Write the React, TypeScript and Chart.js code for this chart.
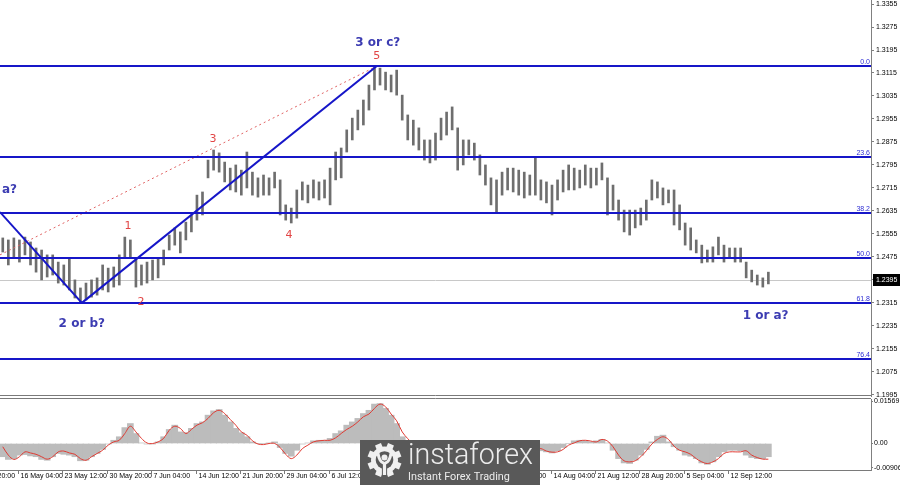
import React, { useEffect, useRef } from "react";
import { Chart, registerables } from "chart.js";

Chart.register(...registerables);

// ---------- data ----------
const H4_PER_BAR = 4; // each drawn bar groups four H4 bars
const X_MAX = 628; // H4 bar slots visible across the plot

const priceHigh = [
  1.2541, 1.2534, 1.2541, 1.2534, 1.2544, 1.2527, 1.2506, 1.2499, 1.2482, 1.2482,
  1.2457, 1.2447, 1.2471, 1.2395, 1.2367, 1.2384, 1.2395, 1.2402, 1.2447, 1.2436,
  1.244, 1.2482, 1.2544, 1.2534, 1.2471, 1.2447, 1.2457, 1.2464, 1.2471, 1.2499,
  1.2551, 1.2576, 1.2562, 1.2596, 1.2621, 1.269, 1.2701, 1.2812, 1.2847, 1.2837,
  1.2805, 1.2784, 1.2795, 1.2777, 1.284, 1.277, 1.275, 1.276, 1.275, 1.277,
  1.2743, 1.2656, 1.2645, 1.2708, 1.2736, 1.2725, 1.2743, 1.2736, 1.2743, 1.2784,
  1.284, 1.2854, 1.2917, 1.2958, 1.2986, 1.3021, 1.3073, 1.3139, 1.3132, 1.3118,
  1.3108, 1.3125, 1.3038, 1.2969, 1.2951, 1.2924, 1.2882, 1.2882, 1.2906, 1.2958,
  1.2979, 1.2997, 1.2924, 1.2882, 1.2882, 1.2871, 1.283, 1.2795, 1.275, 1.2743,
  1.277, 1.2784, 1.2784, 1.2777, 1.277, 1.276, 1.2819, 1.2743, 1.2736, 1.2725,
  1.2743, 1.2777, 1.2795, 1.2784, 1.2777, 1.2795, 1.2784, 1.2784, 1.2802, 1.275,
  1.2725, 1.2673, 1.2638, 1.2638, 1.2638, 1.2645, 1.2673, 1.2743, 1.2736, 1.2715,
  1.2708, 1.2708, 1.2656, 1.2593, 1.2576, 1.2534, 1.2516, 1.2499, 1.251, 1.2544,
  1.2516, 1.2506, 1.2506, 1.2506, 1.2457, 1.2429, 1.2412, 1.2402, 1.2422,
];

const priceLow = [
  1.2492, 1.2447, 1.2471, 1.2457, 1.2482, 1.2447, 1.2422, 1.2395, 1.2405, 1.2412,
  1.2384, 1.2377, 1.236, 1.2332, 1.2315, 1.2325, 1.2335, 1.2342, 1.236, 1.2353,
  1.237, 1.2377, 1.2471, 1.2471, 1.237, 1.2377, 1.2384, 1.2395, 1.2402, 1.2447,
  1.2499, 1.2516, 1.2489, 1.2534, 1.2562, 1.2603, 1.2621, 1.275, 1.2777, 1.277,
  1.2736, 1.2708, 1.2701, 1.269, 1.2715, 1.269, 1.2683, 1.269, 1.269, 1.2715,
  1.2621, 1.2603, 1.2593, 1.261, 1.2673, 1.2663, 1.268, 1.2673, 1.268, 1.2656,
  1.2743, 1.275, 1.284, 1.2882, 1.2917, 1.2934, 1.2986, 1.3056, 1.3073, 1.3056,
  1.3049, 1.3038, 1.2951, 1.2882, 1.2864, 1.2847, 1.2812, 1.2802, 1.2812, 1.2882,
  1.2899, 1.2917, 1.2777, 1.2795, 1.283, 1.2812, 1.276, 1.2725, 1.2656, 1.2628,
  1.269, 1.2708, 1.2701, 1.269, 1.268, 1.269, 1.269, 1.2673, 1.2663, 1.2621,
  1.2673, 1.2701, 1.2708, 1.2708, 1.2715, 1.2725, 1.2715, 1.2725, 1.2743, 1.2621,
  1.2638, 1.2603, 1.2562, 1.2551, 1.2576, 1.2586, 1.2603, 1.2673, 1.268, 1.2656,
  1.2663, 1.2586, 1.2569, 1.2516, 1.2499, 1.2489, 1.2454, 1.2457, 1.2457, 1.2482,
  1.2457, 1.2471, 1.2457, 1.2457, 1.2402, 1.2388, 1.2377, 1.237, 1.2381,
];

const macdMain = [
  -0.0049, -0.0059, -0.0056, -0.0043, -0.0041, -0.0046, -0.0049, -0.0059, -0.0062, -0.0049,
  -0.0037, -0.004, -0.0043, -0.0049, -0.0064, -0.0062, -0.0049, -0.0037, -0.0022, -0.0002,
  0.0012, 0.0025, 0.0059, 0.0074, 0.0037, 0.0002, -0.0002, -0.0002, 0.0006, 0.0025,
  0.0052, 0.0068, 0.0043, 0.004, 0.0056, 0.0074, 0.008, 0.0105, 0.0121, 0.0126,
  0.0105, 0.008, 0.0056, 0.004, 0.0025, 0.0006, 0.0, 0.0, 0.0002, 0.0006,
  -0.0015, -0.0037, -0.0047, -0.0025, -0.0002, 0.0002, 0.001, 0.0012, 0.0012, 0.0019,
  0.0037, 0.0047, 0.0068, 0.008, 0.0093, 0.0111, 0.0123, 0.0146, 0.0148, 0.013,
  0.0105, 0.0074, 0.0025, -0.0008, -0.002, -0.0032, -0.004, -0.0042, -0.0036, -0.0024,
  -0.0012, 0.0005, -0.0008, -0.0015, -0.0018, -0.002, -0.0026, -0.0034, -0.0045, -0.0052,
  -0.005, -0.0046, -0.0042, -0.004, -0.0036, -0.0034, -0.003, -0.0027, -0.0031, -0.0035,
  -0.0027, -0.0015, 0.0, 0.001, 0.0012, 0.001, 0.0006, 0.001, 0.0015, 0.0002,
  -0.0025, -0.0056, -0.0072, -0.0074, -0.0062, -0.0043, -0.0022, 0.0006, 0.0027, 0.0031,
  0.0006, -0.0012, -0.0025, -0.0043, -0.0047, -0.0056, -0.0072, -0.0077, -0.0068, -0.0049,
  -0.0031, -0.0025, -0.0025, -0.0027, -0.0043, -0.0052, -0.0056, -0.0056, -0.0049,
];

const macdSignal = [
  -0.0012, -0.0043, -0.0059, -0.0049, -0.0031, -0.0035, -0.004, -0.0049, -0.0058, -0.0049,
  -0.0031, -0.0028, -0.0035, -0.004, -0.0056, -0.0062, -0.0049, -0.0037, -0.0025, -0.0006,
  0.0006, 0.0012, 0.0037, 0.0064, 0.0043, 0.0019, 0.0002, 0.0, 0.0006, 0.0019,
  0.0049, 0.0064, 0.0056, 0.0037, 0.0052, 0.0068, 0.0077, 0.0093, 0.0114, 0.0123,
  0.0111, 0.0089, 0.0068, 0.0043, 0.0031, 0.001, -0.0002, -0.0004, 0.0, 0.0,
  -0.0015, -0.004, -0.0056, -0.0043, -0.0019, -0.0006, 0.0006, 0.001, 0.0012, 0.0012,
  0.0021, 0.0037, 0.0052, 0.0064, 0.008, 0.0099, 0.0109, 0.013, 0.0146, 0.0136,
  0.0109, 0.0084, 0.0043, 0.0018, -0.0002, -0.0018, -0.003, -0.0038, -0.0038, -0.003,
  -0.0018, -0.0006, -0.0004, -0.001, -0.0015, -0.0018, -0.0022, -0.0028, -0.0038, -0.0046,
  -0.0049, -0.0047, -0.0044, -0.0041, -0.0038, -0.0028, -0.0022, -0.0019, -0.0028, -0.0032,
  -0.0031, -0.0022, -0.0006, 0.0002, 0.001, 0.0012, 0.0009, 0.0006, 0.0015, 0.0009,
  -0.0012, -0.0043, -0.0064, -0.0068, -0.0064, -0.0049, -0.0027, -0.0002, 0.0015, 0.0025,
  0.0015, -0.001, -0.0025, -0.0031, -0.004, -0.0056, -0.0068, -0.0074, -0.0068, -0.0056,
  -0.0037, -0.0031, -0.0031, -0.0031, -0.0027, -0.0043, -0.0052, -0.0058, -0.0058,
];

const priceTicks = [
  1.3355, 1.3275, 1.3195, 1.3115, 1.3035, 1.2955, 1.2875, 1.2795, 1.2715,
  1.2635, 1.2555, 1.2475, 1.2395, 1.2315, 1.2235, 1.2155, 1.2075, 1.1995,
];
const priceMin = 1.19875;
const priceMax = 1.3369;
const currentPrice = 1.2395;

const macdTicks = [0.01569, 0, -0.00906];
const macdTickLabels = ["0.01569", "0.00", "-0.00906"];
const macdMin = -0.00981;
const macdMax = 0.01648;

const timeLabels = [
  "8 May 20:00", "16 May 04:00", "23 May 12:00", "30 May 20:00", "7 Jun 04:00",
  "14 Jun 12:00", "21 Jun 20:00", "29 Jun 04:00", "6 Jul 12:00", "13 Jul 20:00",
  "21 Jul 04:00", "28 Jul 12:00", "4 Aug 20:00", "14 Aug 04:00", "21 Aug 12:00",
  "28 Aug 20:00", "5 Sep 04:00", "12 Sep 12:00",
];
const timeLabelBars = [-19, 13, 45, 77, 109, 141, 173, 205, 237, 269, 301, 333, 365, 397, 429, 461, 493, 525];

const fibLevels = ["0.0", "23.6", "38.2", "50.0", "61.8", "76.4"];
const fibPrices = [1.3139, 1.2823, 1.2628, 1.2472, 1.2315, 1.212];

const waveAX = [0, 59];
const waveAY = [1.2631, 1.2315];
const waveBX = [59, 271.7];
const waveBY = [1.2315, 1.3139];
const guideX = [0, 271.7];
const guideY = [1.2482, 1.3139];

const waveText = ["1 or a?", "2 or b?", "3 or c?", "1 or a?"];
const waveTextX = [12.3, 59, 272.4, 552];
const waveTextY = [1.2708, 1.2241, 1.3219, 1.2269];
const waveTextAlign = ["right", "center", "center", "center"];

const subText = ["1", "2", "3", "4", "5"];
const subTextX = [92.3, 101.6, 153.5, 208.3, 271.7];
const subTextY = [1.2583, 1.2318, 1.2885, 1.2551, 1.3174];

// ---------- styles ----------
const AXIS_FONT = '"Liberation Sans", Arial, sans-serif';
const BLUE = "#1616c8";
const AXIS_W = 29;

const fixWidth = (s: any) => {
  s.width = AXIS_W;
  s.paddingTop = 0;
  s.paddingBottom = 0;
};

function drawGear(ctx: CanvasRenderingContext2D, cx: number, cy: number) {
  ctx.save();
  ctx.fillStyle = "#f0f0f0";
  ctx.translate(cx, cy);
  for (let t = 0; t < 8; t++) {
    ctx.save();
    ctx.rotate((t * Math.PI) / 4 + Math.PI / 8);
    ctx.fillRect(-3.2, -17, 6.4, 8);
    ctx.restore();
  }
  ctx.beginPath();
  ctx.arc(0, 0, 13.5, 0, Math.PI * 2);
  ctx.fill();
  ctx.fillStyle = "#595959";
  ctx.beginPath();
  ctx.arc(0, 0, 8.8, 0, Math.PI * 2);
  ctx.fill();
  ctx.fillRect(-2.6, 8, 5.2, 10);
  ctx.fillStyle = "#f0f0f0";
  ctx.beginPath();
  ctx.arc(0, -2.5, 3, 0, Math.PI * 2);
  ctx.fill();
  ctx.strokeStyle = "#f0f0f0";
  ctx.lineWidth = 3;
  ctx.lineCap = "round";
  ctx.beginPath();
  ctx.moveTo(-6.5, -6.5);
  ctx.quadraticCurveTo(-5, 2, -1, 3);
  ctx.moveTo(6.5, -6.5);
  ctx.quadraticCurveTo(5, 2, 1, 3);
  ctx.stroke();
  ctx.fillRect(-1.6, 2, 3.2, 13);
  ctx.restore();
}

export default function App() {
  const mainRef = useRef<HTMLCanvasElement>(null);
  const macdRef = useRef<HTMLCanvasElement>(null);

  useEffect(() => {
    const charts: Chart[] = [];
    const barX = priceHigh.map((_, k) => k * H4_PER_BAR + H4_PER_BAR / 2);

    const mainPlugin = {
      id: "mainDecor",
      beforeDatasetsDraw(chart: any) {
        const { ctx, chartArea: a, scales } = chart;
        const py = Math.round(scales.y.getPixelForValue(currentPrice)) + 0.5;
        ctx.save();
        ctx.strokeStyle = "#c8c8c8";
        ctx.lineWidth = 1;
        ctx.beginPath();
        ctx.moveTo(a.left, py);
        ctx.lineTo(a.right, py);
        ctx.stroke();
        ctx.restore();
      },
      afterDatasetsDraw(chart: any) {
        const { ctx, chartArea: a, scales } = chart;
        ctx.save();
        fibPrices.forEach((p, i) => {
          const yy = Math.round(scales.y.getPixelForValue(p));
          ctx.fillStyle = BLUE;
          ctx.fillRect(a.left, yy - 1, a.right - a.left, 2);
          ctx.fillStyle = "#2c2cd4";
          ctx.font = `7px ${AXIS_FONT}`;
          ctx.textAlign = "right";
          ctx.textBaseline = "alphabetic";
          ctx.fillText(fibLevels[i], a.right - 1, yy - 2);
        });
        ctx.restore();
      },
      afterDraw(chart: any) {
        const { ctx, chartArea: a, scales } = chart;
        ctx.save();
        ctx.textBaseline = "middle";
        ctx.font = 'bold 12px "DejaVu Sans", sans-serif';
        ctx.fillStyle = "#3c3cb2";
        waveText.forEach((t, i) => {
          ctx.textAlign = waveTextAlign[i] as CanvasTextAlign;
          ctx.fillText(t, scales.x.getPixelForValue(waveTextX[i]), scales.y.getPixelForValue(waveTextY[i]));
        });
        ctx.font = '11px "DejaVu Sans", sans-serif';
        ctx.fillStyle = "#e24545";
        ctx.textAlign = "center";
        subText.forEach((t, i) => {
          ctx.fillText(t, scales.x.getPixelForValue(subTextX[i]), scales.y.getPixelForValue(subTextY[i]));
        });
        // current price tag
        const py = Math.round(scales.y.getPixelForValue(currentPrice));
        ctx.fillStyle = "#000";
        ctx.fillRect(a.right + 2, py - 6, 27, 12);
        ctx.fillStyle = "#fff";
        ctx.font = `7px ${AXIS_FONT}`;
        ctx.textAlign = "left";
        ctx.fillText(currentPrice.toFixed(4), a.right + 5, py + 0.5);
        // window bottom border
        ctx.strokeStyle = "#7a7a7a";
        ctx.lineWidth = 1;
        ctx.beginPath();
        ctx.moveTo(0, a.bottom - 1.5);
        ctx.lineTo(a.right, a.bottom - 1.5);
        ctx.stroke();
        ctx.restore();
      },
    };

    if (mainRef.current) {
      charts.push(
        new Chart(mainRef.current, {
          type: "bar",
          data: {
            datasets: [
              {
                type: "bar",
                data: barX.map((x, k) => ({ x, y: [priceLow[k], priceHigh[k]] })) as any,
                backgroundColor: "#6e6e6e",
                borderWidth: 0,
                barThickness: 2,
                order: 10,
              } as any,
              {
                type: "line",
                data: waveAX.map((x, i) => ({ x, y: waveAY[i] })),
                borderColor: BLUE,
                borderWidth: 2,
                pointRadius: 0,
                order: 1,
              },
              {
                type: "line",
                data: waveBX.map((x, i) => ({ x, y: waveBY[i] })),
                borderColor: BLUE,
                borderWidth: 2,
                pointRadius: 0,
                order: 1,
              },
              {
                type: "line",
                data: guideX.map((x, i) => ({ x, y: guideY[i] })),
                borderColor: "#e06464",
                borderWidth: 1,
                borderDash: [2, 3],
                pointRadius: 0,
                order: 2,
              },
            ],
          },
          options: {
            animation: false,
            responsive: false,
            maintainAspectRatio: false,
            layout: { padding: 0 },
            plugins: { legend: { display: false }, tooltip: { enabled: false } },
            scales: {
              x: { type: "linear", min: 0, max: X_MAX, offset: false, display: false },
              y: {
                type: "linear",
                position: "right",
                min: priceMin,
                max: priceMax,
                afterBuildTicks: (s: any) => {
                  s.ticks = priceTicks.map((v) => ({ value: v }));
                },
                afterFit: fixWidth,
                ticks: {
                  autoSkip: false,
                  color: "#000",
                  padding: 2,
                  font: { family: AXIS_FONT, size: 7 },
                  callback: (v: any) => Number(v).toFixed(4),
                },
                grid: { drawOnChartArea: false, drawTicks: true, tickLength: 3, color: "#808080" },
                border: { display: true, color: "#808080" },
              },
            },
          } as any,
          plugins: [mainPlugin],
        })
      );
    }

    const macdPlugin = {
      id: "macdDecor",
      afterDraw(chart: any) {
        const { ctx, chartArea: a, scales } = chart;
        ctx.save();
        ctx.strokeStyle = "#7a7a7a";
        ctx.lineWidth = 1;
        ctx.beginPath();
        ctx.moveTo(0, a.top - 0.5);
        ctx.lineTo(a.right, a.top - 0.5);
        ctx.moveTo(0, a.bottom + 0.5);
        ctx.lineTo(a.right, a.bottom + 0.5);
        ctx.stroke();
        // time axis
        ctx.fillStyle = "#000";
        ctx.font = `7px ${AXIS_FONT}`;
        ctx.textAlign = "left";
        ctx.textBaseline = "top";
        timeLabels.forEach((t, i) => {
          const x = Math.round(scales.x.getPixelForValue(timeLabelBars[i])) + 0.5;
          ctx.beginPath();
          ctx.moveTo(x, a.bottom + 1);
          ctx.lineTo(x, a.bottom + 4);
          ctx.stroke();
          ctx.fillText(t, x + 2, a.bottom + 3);
        });
        // logo
        const top = 440 - 397;
        ctx.fillStyle = "#595959";
        ctx.fillRect(360, top, 180, 88 - top);
        drawGear(ctx, 384.5, top + 20);
        ctx.fillStyle = "#ececec";
        ctx.textBaseline = "alphabetic";
        ctx.font = '300 28px Roboto, "Open Sans", sans-serif';
        let w = ctx.measureText("instaforex").width;
        ctx.font = `300 ${(28 * 125) / w}px Roboto, "Open Sans", sans-serif`;
        ctx.fillText("instaforex", 408, top + 24);
        ctx.font = '12px Roboto, "Open Sans", sans-serif';
        w = ctx.measureText("Instant Forex Trading").width;
        ctx.font = `${(12 * 102) / w}px Roboto, "Open Sans", sans-serif`;
        ctx.fillText("Instant Forex Trading", 408, top + 40);
        ctx.restore();
      },
    };

    if (macdRef.current) {
      charts.push(
        new Chart(macdRef.current, {
          type: "bar",
          data: {
            datasets: [
              {
                type: "line",
                data: barX.map((x, k) => ({ x, y: macdSignal[k] })),
                borderColor: "#e03a32",
                borderWidth: 1,
                pointRadius: 0,
                tension: 0.35,
                order: 1,
              },
              {
                type: "bar",
                data: barX.map((x, k) => ({ x, y: macdMain[k] })),
                backgroundColor: "#bcbcbc",
                borderWidth: 0,
                barThickness: 6,
                order: 5,
              } as any,
            ],
          },
          options: {
            animation: false,
            responsive: false,
            maintainAspectRatio: false,
            layout: { padding: { top: 2, left: 0, right: 0, bottom: 0 } },
            plugins: { legend: { display: false }, tooltip: { enabled: false } },
            scales: {
              x: {
                type: "linear",
                min: 0,
                max: X_MAX,
                offset: false,
                ticks: { display: false },
                grid: { display: false },
                border: { display: false },
                afterFit: (s: any) => {
                  s.height = 15;
                },
              },
              y: {
                type: "linear",
                position: "right",
                min: macdMin,
                max: macdMax,
                afterBuildTicks: (s: any) => {
                  s.ticks = macdTicks.map((v) => ({ value: v }));
                },
                afterFit: fixWidth,
                ticks: {
                  autoSkip: false,
                  color: "#000",
                  padding: 1,
                  font: { family: AXIS_FONT, size: 7 },
                  callback: (_v: any, i: number) => macdTickLabels[i],
                },
                grid: { drawOnChartArea: false, drawTicks: true, tickLength: 2, color: "#808080" },
                border: { display: true, color: "#808080" },
              },
            },
          } as any,
          plugins: [macdPlugin],
        })
      );
    }

    return () => charts.forEach((c) => c.destroy());
  }, []);

  return (
    <div style={{ position: "absolute", left: 0, top: 0, width: 900, height: 485, background: "#fff", overflow: "hidden" }}>
      <canvas ref={mainRef} width={900} height={397} style={{ position: "absolute", left: 0, top: 0, width: 900, height: 397 }} />
      <canvas ref={macdRef} width={900} height={88} style={{ position: "absolute", left: 0, top: 397, width: 900, height: 88 }} />
    </div>
  );
}
